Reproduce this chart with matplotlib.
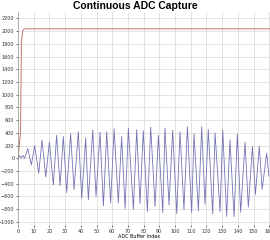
import numpy as np
import matplotlib
matplotlib.use('Agg')
import matplotlib.pyplot as plt

# blue ADC samples (turning points)
sig_x = [0, 1, 2, 3, 4.2,
         6.2, 8.5, 10.6, 13.2, 15.3, 17.7, 20, 22.5, 24.6, 26.8, 28.9, 31,
         33.5, 35.7, 38.4, 40.6, 43.1, 44.8, 47.6, 49.7, 52.2, 54.4, 56.5, 59,
         61.2, 63.9, 66, 68.2, 70.3, 73.5, 75.6, 77.7, 79.8, 82.4, 84.5, 87.3,
         89.4, 92.2, 93.6, 96.2, 98.5, 101.1, 103.2, 105.7, 107.9, 110.6, 112.1,
         114.9, 117, 119.1, 121.2, 124, 125.5, 128.7, 130.4, 132.9, 135, 137.6,
         139.7, 141.8, 144.6, 146.7, 149.3, 151.2, 153.7, 155.5, 158.4, 159.8]
sig_y = [0, 40, 5, 45, 0,
         150, -105, 200, -235, 285, -295, 255, -420, 360, -430, 340, -540,
         385, -495, 415, -630, 320, -655, 445, -600, 410, -750, 415, -705,
         460, -700, 340, -790, 470, -805, 450, -710, 435, -840, 490, -760,
         360, -855, 475, -735, 440, -870, 415, -805, 495, -855, 385,
         -825, 495, -725, 450, -880, 400, -840, 440, -915, 290, -920,
         380, -850, 250, -770, 185, -570, 190, -490, 80, -280]

# red reference line
ref_x = [0, 1.6, 2.2, 3.0, 4.0, 160.5]
ref_y = [0, 400, 1850, 2000, 2035, 2035]

xticks = np.arange(0, 161, 10)
yticks = np.arange(-1000, 2201, 200)

fig = plt.figure(figsize=(2.7, 2.4), dpi=100)
ax = fig.add_axes([18 / 270, 15 / 240, 252 / 270, 213 / 240])

ax.plot(ref_x, ref_y, color='#c27a68', lw=0.7)
ax.plot(sig_x, sig_y, color='#7474b4', lw=0.6)

ax.set_xlim(0, 160.5)
ax.set_ylim(-1050, 2300)
ax.set_xticks(xticks)
ax.set_yticks(yticks)
ax.tick_params(labelsize=3.5, length=1.5, width=0.5, pad=1.2, colors='#333333')
ax.grid(True, color='#d8d8d8', lw=0.5)
for s in ['top', 'right', 'bottom']:
    ax.spines[s].set_visible(False)
ax.spines['left'].set_color('#999999')
ax.spines['left'].set_linewidth(0.5)

ax.set_xlabel('ADC Buffer Index', fontsize=3.5, labelpad=0.5, x=0.48)
fig.suptitle('Continuous ADC Capture', fontsize=7.5, fontweight='bold',
             family='Liberation Sans', y=0.995)

fig.savefig('out.png', dpi=100)
